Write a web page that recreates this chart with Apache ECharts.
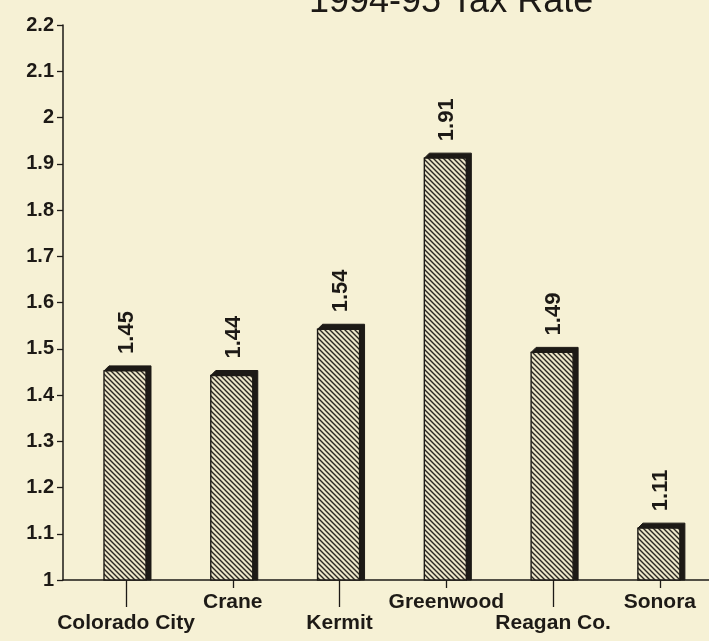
<!DOCTYPE html>
<html>
<head>
<meta charset="utf-8">
<script src="https://cdn.jsdelivr.net/npm/echarts@6/dist/echarts.min.js"></script>
<style>
  html, body { margin: 0; padding: 0; background: #f6f1d5; }
  #chart { width: 709px; height: 641px; }
</style>
</head>
<body>
<div id="chart"></div>
<script>
// ---- data ----
const categories = ['Colorado City', 'Crane', 'Kermit', 'Greenwood', 'Reagan Co.', 'Sonora'];
const taxRates = [1.45, 1.44, 1.54, 1.91, 1.49, 1.11];
const titleText = '1994-95 Tax Rate';

// ---- styling helpers ----
const INK = '#1d1a16';
const FONT = '"Liberation Sans", Arial, sans-serif';

function makeHatch() {
  const s = 5;
  const c = document.createElement('canvas');
  c.width = s; c.height = s;
  const g = c.getContext('2d');
  g.fillStyle = '#ece6c8';
  g.fillRect(0, 0, s, s);
  g.strokeStyle = '#2b2722';
  g.lineWidth = 1.4;
  g.beginPath();
  g.moveTo(-1, -1); g.lineTo(s + 1, s + 1);
  g.moveTo(-1, s - 1); g.lineTo(1, s + 1);
  g.moveTo(s - 1, -1); g.lineTo(s + 1, 1);
  g.stroke();
  return c;
}
const hatch = makeHatch();

const evenIdx = categories.map((_, i) => i).filter(i => i % 2 === 0);
const oddIdx = categories.map((_, i) => i).filter(i => i % 2 === 1);

const chart = echarts.init(document.getElementById('chart'));

const baseX = {
  type: 'value', min: -0.59, max: 5.46,
  position: 'bottom',
  splitLine: { show: false },
  axisLine: { show: true, onZero: false, lineStyle: { color: INK, width: 1.5 } }
};

chart.setOption({
  backgroundColor: '#f6f1d5',
  animation: false,
  title: {
    text: titleText, left: 304, top: -21,
    textStyle: { fontFamily: FONT, fontSize: 36, fontWeight: 'normal', color: INK }
  },
  grid: { left: 63, right: 0, top: 25, bottom: 61, containLabel: false },
  xAxis: [
    Object.assign({}, baseX, {
      axisTick: { show: true, length: 27, customValues: evenIdx, lineStyle: { color: INK, width: 1.3 } },
      axisLabel: {
        customValues: evenIdx, margin: 33,
        formatter: v => categories[Math.round(v)] || '',
        fontFamily: FONT, fontSize: 21, fontWeight: 'bold', color: INK
      }
    }),
    Object.assign({}, baseX, {
      axisLine: { show: false },
      axisTick: { show: true, length: 8, customValues: oddIdx, lineStyle: { color: INK, width: 1.3 } },
      axisLabel: {
        customValues: oddIdx, margin: 12,
        formatter: v => categories[Math.round(v)] || '',
        fontFamily: FONT, fontSize: 21, fontWeight: 'bold', color: INK
      }
    })
  ],
  yAxis: {
    type: 'value', min: 1, max: 2.2, interval: 0.1,
    splitLine: { show: false },
    axisLine: { show: true, onZero: false, lineStyle: { color: INK, width: 1.5 } },
    axisTick: { show: true, length: 6, lineStyle: { color: INK, width: 1.3 } },
    axisLabel: {
      margin: 9, fontFamily: FONT, fontSize: 20, fontWeight: 'bold', color: INK,
      formatter: v => String(Math.round(v * 10) / 10)
    }
  },
  series: [{
    type: 'custom',
    xAxisIndex: 0,
    data: taxRates.map((v, i) => [i, v]),
    renderItem: function (params, api) {
      const i = api.value(0);
      const v = api.value(1);
      const top = api.coord([i, v]);
      const base = api.coord([i, 1]);
      const w = 42, d = 5;
      const x0 = top[0] - w / 2 - 1, x1 = x0 + w;
      const y0 = top[1] - 1, yb = base[1];
      return {
        type: 'group',
        children: [
          {
            type: 'polygon',
            shape: { points: [[x0, y0], [x0 + d, y0 - d], [x1 + d, y0 - d], [x1 + d, yb], [x1, yb], [x1, y0]] },
            style: { fill: INK, stroke: INK, lineWidth: 1 }
          },
          {
            type: 'rect',
            shape: { x: x0, y: y0, width: w, height: yb - y0 },
            style: { fill: { image: hatch, repeat: 'repeat' }, stroke: INK, lineWidth: 1.4 }
          },
          {
            type: 'text',
            x: top[0] + 1, y: y0 - d - 12,
            rotation: Math.PI / 2,
            style: {
              text: v.toFixed(2), fontFamily: FONT, fontSize: 22, fontWeight: 'bold',
              fill: INK, align: 'left', verticalAlign: 'middle'
            }
          }
        ]
      };
    }
  }]
});
</script>
</body>
</html>
